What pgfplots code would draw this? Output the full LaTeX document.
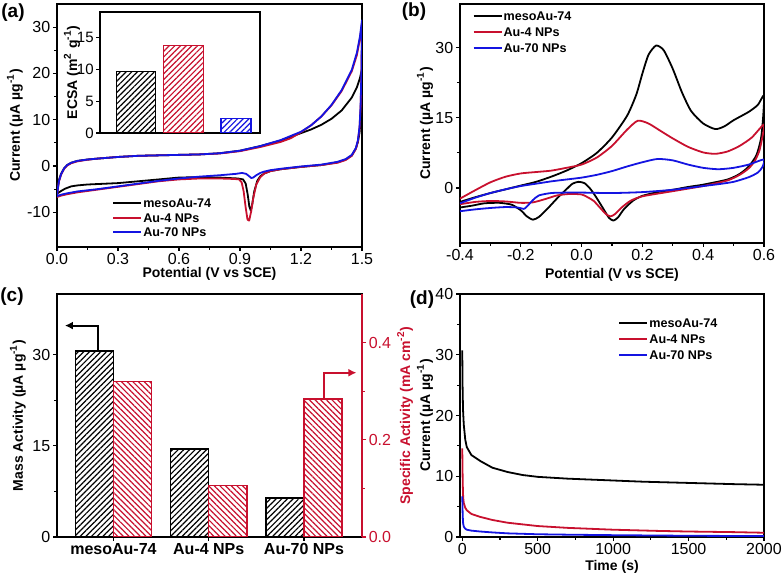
\documentclass[border=0pt]{standalone}
\usepackage{fontspec}
\setmainfont{Liberation Sans}
\usepackage{pgfplots}
\pgfplotsset{compat=1.18}
\usetikzlibrary{patterns,patterns.meta,arrows.meta}
\definecolor{myred}{RGB}{200,16,46}
\definecolor{myblue}{RGB}{20,20,225}

\pgfplotsset{
  panel/.style={
    scale only axis,
    axis line style={line width=0.75pt},
    tick align=outside,
    xtick pos=bottom, ytick pos=left,
    major tick length=2pt, minor tick length=1.3pt,
    every tick/.style={line width=0.6pt, black},
    tick label style={font=\fontsize{8}{9}\selectfont},
    xticklabel style={inner sep=1pt},
    yticklabel style={inner sep=1.2pt},
    label style={font=\bfseries\fontsize{7}{8}\selectfont},
    /pgf/number format/assume math mode=true,
    /pgf/number format/1000 sep={},
    legend style={draw=none, fill=none, font=\bfseries\fontsize{6.3}{7}\selectfont,
       nodes={inner sep=0.5pt, text height=4.6pt, text depth=0.2pt}, row sep=2.2pt, inner sep=0pt},
    legend cell align=left,
    legend image code/.code={\draw[##1, line width=1pt] (0pt,0pt) -- (14pt,0pt);},
  },
  cv/.style={line width=0.9pt, line join=round, mark=none},
}

\begin{document}
\begin{tikzpicture}
\path[use as bounding box] (0,0) rectangle (392pt,288.5pt);

% ---------------- (a) ----------------
\begin{axis}[panel, at={(28.5pt,165pt)}, anchor=south west, width=152.5pt, height=121.5pt,
  xmin=0, xmax=1.5, ymin=-17.5, ymax=35,
  xtick={0,0.3,0.6,0.9,1.2,1.5},
  xticklabel style={/pgf/number format/.cd, fixed, fixed zerofill, precision=1},
  ytick={-10,0,10,20,30}, minor x tick num=1, minor y tick num=1,
  xlabel={Potential (V vs SCE)}, ylabel={Current (µA µg\textsuperscript{-1})},
  xlabel style={at={(axis description cs:0.5,-0.111)}, anchor=center},
  ylabel style={at={(axis description cs:-0.138,0.5)}, anchor=center},
  legend style={at={(0.18,0.205)}, anchor=north west, row sep=1.4pt}]
\addplot[black, cv] coordinates {
(0,-6)(0.005,-4.3)(0.01,-3.0)(0.02,-1.7)(0.035,-0.5)(0.05,0.2)(0.07,0.7)(0.1,1.1)(0.15,1.4)(0.2,1.6)(0.3,1.95)(0.4,2.2)(0.5,2.3)(0.6,2.4)(0.7,2.5)(0.8,2.75)(0.9,3.3)(1.0,4.3)(1.1,5.5)(1.2,7.1)(1.25,7.9)(1.3,8.9)(1.35,10.2)(1.4,12.0)(1.45,14.8)(1.475,17)(1.49,19)(1.5,21)
(1.497,14)(1.493,10)(1.488,7.2)(1.48,5.2)(1.47,3.8)(1.45,2.3)(1.42,1.4)(1.38,0.8)(1.3,0.2)(1.2,-0.2)(1.1,-0.7)(1.05,-1.1)(1.02,-1.6)(1.0,-2.2)(0.985,-3.2)(0.97,-5.5)(0.96,-8.3)(0.953,-9.6)(0.946,-8.8)(0.938,-6.2)(0.928,-3.8)(0.915,-2.9)(0.89,-2.7)(0.8,-2.5)(0.7,-2.4)(0.6,-2.5)(0.5,-2.9)(0.4,-3.3)(0.3,-3.7)(0.2,-3.9)(0.15,-4.0)(0.1,-4.2)(0.07,-4.4)(0.04,-4.9)(0.02,-5.4)(0,-6)};
\addlegendentry{mesoAu-74}
\addplot[myred, cv] coordinates {
(0,-6.7)(0.005,-4.7)(0.01,-3.3)(0.02,-1.9)(0.035,-0.6)(0.05,0.1)(0.07,0.6)(0.1,1.0)(0.15,1.35)(0.2,1.6)(0.3,1.95)(0.4,2.2)(0.5,2.3)(0.6,2.4)(0.7,2.5)(0.8,2.7)(0.9,3.2)(1.0,4.1)(1.1,5.2)(1.15,6.0)(1.2,7.3)(1.25,8.8)(1.3,10.7)(1.35,13.1)(1.4,16.2)(1.45,20.5)(1.475,24)(1.49,27.5)(1.5,30.8)
(1.497,19)(1.493,12.5)(1.488,8.2)(1.48,5.4)(1.47,3.7)(1.45,2.2)(1.42,1.3)(1.38,0.7)(1.3,0.2)(1.2,-0.2)(1.1,-0.7)(1.05,-1.1)(1.02,-1.6)(1.0,-2.4)(0.98,-4.0)(0.965,-7.0)(0.955,-9.8)(0.945,-11.8)(0.937,-11.6)(0.928,-9.0)(0.918,-5.5)(0.908,-3.5)(0.895,-2.9)(0.87,-2.8)(0.8,-2.7)(0.7,-2.7)(0.6,-2.9)(0.5,-3.3)(0.4,-3.9)(0.3,-4.5)(0.2,-5.1)(0.1,-5.7)(0.05,-6.1)(0.02,-6.4)(0,-6.7)};
\addlegendentry{Au-4 NPs}
\addplot[myblue, cv] coordinates {
(0,-6.5)(0.005,-4.6)(0.01,-3.2)(0.02,-1.8)(0.035,-0.5)(0.05,0.2)(0.07,0.7)(0.1,1.1)(0.15,1.4)(0.2,1.6)(0.3,1.95)(0.4,2.2)(0.5,2.3)(0.6,2.4)(0.7,2.5)(0.8,2.75)(0.9,3.3)(1.0,4.3)(1.1,5.6)(1.2,7.4)(1.25,8.8)(1.3,10.7)(1.35,13.2)(1.4,16.4)(1.45,20.8)(1.475,24.5)(1.49,28)(1.5,31.5)
(1.497,20)(1.493,13)(1.488,8.5)(1.48,5.6)(1.47,3.9)(1.45,2.4)(1.42,1.5)(1.38,0.9)(1.3,0.3)(1.2,-0.1)(1.1,-0.6)(1.05,-0.9)(1.02,-1.2)(1.0,-1.5)(0.98,-2.0)(0.965,-2.5)(0.955,-2.6)(0.945,-2.2)(0.93,-1.7)(0.91,-1.5)(0.88,-1.7)(0.8,-2.0)(0.7,-2.3)(0.6,-2.7)(0.5,-3.2)(0.4,-3.8)(0.3,-4.4)(0.2,-5.0)(0.1,-5.5)(0.05,-5.9)(0.02,-6.2)(0,-6.5)};
\addlegendentry{Au-70 NPs}
\end{axis}

% inset
\begin{axis}[panel, at={(50pt,222pt)}, anchor=south west, width=80pt, height=60.5pt,
  xmin=0, xmax=160, ymin=0, ymax=19, xtick=\empty, ytick={0,5,10,15},
  yticklabel style={font=\fontsize{7.5}{8}\selectfont, inner sep=1pt},
  ylabel={ECSA (m\textsuperscript{2} g\textsuperscript{-1})},
  ylabel style={at={(axis description cs:-0.175,0.5)}, anchor=center},
  axis background/.style={fill=white},
  ybar, every axis plot post/.append style={bar shift=0pt}]
\addplot[draw=black, line width=0.6pt, bar width=39, pattern={Lines[angle=45,distance=2pt,line width=0.6pt]}, pattern color=black] coordinates {(36.3,9.6)};
\addplot[draw=myred, line width=0.6pt, bar width=40, pattern={Lines[angle=45,distance=2pt,line width=0.6pt]}, pattern color=myred] coordinates {(83.3,13.7)};
\addplot[draw=myblue, line width=0.6pt, bar width=30, pattern={Lines[angle=45,distance=2pt,line width=0.6pt]}, pattern color=myblue] coordinates {(136,2.25)};
\end{axis}

% ---------------- (b) ----------------
\begin{axis}[panel, at={(230pt,167pt)}, anchor=south west, width=152pt, height=119.5pt,
  xmin=-0.4, xmax=0.6, ymin=-11.8, ymax=39.4,
  xtick={-0.4,-0.2,0,0.2,0.4,0.6},
  xticklabel style={/pgf/number format/.cd, fixed, fixed zerofill, precision=1},
  ytick={0,15,30}, minor x tick num=1, minor y tick num=1,
  xlabel={Potential (V vs SCE)}, ylabel={Current (µA µg\textsuperscript{-1})},
  xlabel style={at={(axis description cs:0.5,-0.134)}, anchor=center},
  ylabel style={at={(axis description cs:-0.115,0.5)}, anchor=center},
  legend style={at={(0.04,0.975)}, anchor=north west}]
\addplot[black, cv, smooth, tension=0.4] coordinates {
(-0.4,-3.0)(-0.35,-2.0)(-0.3,-1.1)(-0.25,-0.3)(-0.2,0.5)(-0.15,1.3)(-0.1,2.4)(-0.05,3.7)(0,5.3)(0.05,7.5)(0.1,10.8)(0.15,15.5)(0.18,20)(0.2,24.5)(0.22,28.5)(0.245,30.5)(0.27,29.5)(0.3,25.5)(0.33,20.5)(0.36,16.5)(0.4,13.8)(0.44,12.6)(0.47,13.2)(0.5,14.5)(0.55,16.3)(0.58,17.8)(0.6,19.8)
(0.597,15)(0.59,10.5)(0.575,7)(0.55,4.6)(0.52,3.0)(0.48,1.8)(0.4,0.7)(0.35,0.2)(0.3,-0.4)(0.25,-0.9)(0.2,-1.7)(0.17,-2.7)(0.14,-4.5)(0.12,-6.3)(0.105,-7.0)(0.09,-6.4)(0.07,-4.3)(0.05,-2.2)(0.03,-0.3)(0.01,1.0)(-0.01,1.3)(-0.03,0.9)(-0.05,-0.3)(-0.08,-2.2)(-0.11,-4.3)(-0.14,-6.2)(-0.16,-6.8)(-0.18,-6.1)(-0.2,-4.8)(-0.23,-3.6)(-0.27,-3.2)(-0.32,-3.3)(-0.36,-3.8)(-0.4,-4.2)};
\addlegendentry{mesoAu-74}
\addplot[myred, cv, smooth, tension=0.4] coordinates {
(-0.4,-2.3)(-0.35,-0.5)(-0.3,1.2)(-0.25,2.4)(-0.2,3.1)(-0.15,3.4)(-0.1,3.7)(-0.05,4.3)(0,5.0)(0.05,6.5)(0.1,9.0)(0.15,12.5)(0.185,14.4)(0.22,13.8)(0.26,12.2)(0.3,10.6)(0.35,8.8)(0.4,7.6)(0.44,7.3)(0.48,7.8)(0.52,9.0)(0.56,10.8)(0.6,13.6)
(0.595,11)(0.585,8)(0.57,5.8)(0.55,4.2)(0.52,2.8)(0.48,1.6)(0.4,0.4)(0.3,-0.7)(0.2,-1.8)(0.16,-2.8)(0.13,-4.3)(0.11,-5.6)(0.095,-6.1)(0.08,-5.6)(0.06,-4.2)(0.04,-2.8)(0.02,-2.0)(0,-1.4)(-0.04,-1.3)(-0.08,-1.6)(-0.12,-2.4)(-0.16,-3.1)(-0.2,-3.2)(-0.25,-2.9)(-0.3,-2.8)(-0.35,-3.0)(-0.4,-3.5)};
\addlegendentry{Au-4 NPs}
\addplot[myblue, cv, smooth, tension=0.4] coordinates {
(-0.4,-3.3)(-0.35,-2.1)(-0.3,-1.1)(-0.25,-0.3)(-0.2,0.4)(-0.15,0.9)(-0.1,1.4)(-0.05,1.8)(0,2.2)(0.05,2.8)(0.1,3.6)(0.15,4.6)(0.2,5.5)(0.25,6.2)(0.3,5.9)(0.35,5.0)(0.4,4.3)(0.45,4.0)(0.5,4.3)(0.55,5.0)(0.6,6.1)
(0.595,4.5)(0.58,3.3)(0.55,2.3)(0.5,1.3)(0.45,0.8)(0.4,0.4)(0.3,-0.4)(0.2,-0.9)(0.1,-1.1)(0,-1.0)(-0.05,-1.0)(-0.1,-1.1)(-0.14,-1.6)(-0.16,-2.6)(-0.18,-4.0)(-0.19,-4.5)(-0.21,-4.2)(-0.25,-4.1)(-0.3,-4.3)(-0.35,-4.6)(-0.4,-5.0)};
\addlegendentry{Au-70 NPs}
\end{axis}

% ---------------- (c) ----------------
\begin{axis}[panel, at={(28.5pt,20pt)}, anchor=south west, width=152.5pt, height=121.5pt,
  xmin=-0.593, xmax=2.609, ymin=0, ymax=40,
  ytick={0,15,30}, minor y tick num=1,
  xtick={0,1,2}, xticklabels={mesoAu-74, Au-4 NPs, Au-70 NPs},
  xticklabel style={font=\bfseries\fontsize{8}{9}\selectfont},
  ylabel={Mass Activity (µA µg\textsuperscript{-1})},
  ylabel style={at={(axis description cs:-0.128,0.5)}, anchor=center},
  ybar, bar width=0.4, every axis plot post/.append style={bar shift=0pt}]
\addplot[draw=black, line width=0.75pt, pattern={Lines[angle=45,distance=2pt,line width=0.6pt]}, pattern color=black] coordinates {(-0.2,30.6)(0.8,14.5)(1.8,6.4)};
\draw[line width=1pt, -{Latex[length=4pt,width=4pt]}] (axis cs:-0.16,30.6) -- (axis cs:-0.16,34.8) -- (axis cs:-0.51,34.8);
\end{axis}
\begin{axis}[scale only axis, at={(28.5pt,20pt)}, anchor=south west, width=152.5pt, height=121.5pt,
  xmin=-0.593, xmax=2.609, ymin=0, ymax=0.5,
  axis x line=none, axis y line*=right,
  axis line style={myred, line width=0.75pt},
  tick align=outside, major tick length=2pt, minor tick length=1.3pt,
  every tick/.style={line width=0.6pt, myred},
  ytick={0,0.2,0.4}, minor y tick num=1,
  yticklabel style={font=\fontsize{8}{9}\selectfont, inner sep=1.2pt, color=myred, /pgf/number format/.cd, fixed, fixed zerofill, precision=1},
  /pgf/number format/assume math mode=true,
  ylabel={Specific Activity (mA cm\textsuperscript{-2})},
  ylabel style={font=\bfseries\fontsize{7}{8}\selectfont, color=myred, at={(axis description cs:1.141,0.5)}, anchor=center, rotate=0},
  ybar, bar width=0.4, every axis plot post/.append style={bar shift=0pt}]
\addplot[draw=myred, line width=0.75pt, pattern={Lines[angle=-45,distance=2pt,line width=0.6pt]}, pattern color=myred] coordinates {(0.2,0.32)(1.2,0.106)(2.2,0.284)};
\draw[myred, line width=1pt, -{Latex[length=4pt,width=4pt]}] (axis cs:2.21,0.284) -- (axis cs:2.21,0.338) -- (axis cs:2.55,0.338);
\end{axis}

% ---------------- (d) ----------------
\begin{axis}[panel, at={(230pt,20pt)}, anchor=south west, width=152pt, height=121.5pt,
  xmin=-15, xmax=2000, ymin=0, ymax=40,
  xtick={0,500,1000,1500,2000}, ytick={0,10,20,30,40},
  minor x tick num=1, minor y tick num=1,
  xlabel={Time (s)}, ylabel={Current (µA µg\textsuperscript{-1})},
  xlabel style={at={(axis description cs:0.5,-0.123)}, anchor=center},
  ylabel style={at={(axis description cs:-0.115,0.5)}, anchor=center},
  legend style={at={(0.52,0.905)}, anchor=north west}]
\addplot[black, cv] coordinates {
(0,30.7)(2,25)(5,21)(10,18.5)(20,16)(30,14.8)(60,13.5)(120,12.5)(200,11.4)(300,10.7)(400,10.2)(500,9.9)(700,9.6)(1000,9.3)(1200,9.1)(1500,8.9)(1800,8.7)(2000,8.6)};
\addlegendentry{mesoAu-74}
\addplot[myred, cv] coordinates {
(0,14.6)(3,9)(6,6.5)(10,5.6)(20,4.8)(30,4.4)(60,3.8)(120,3.3)(200,2.8)(300,2.35)(500,1.8)(700,1.5)(1000,1.2)(1300,1.0)(1500,0.9)(1800,0.8)(2000,0.7)};
\addlegendentry{Au-4 NPs}
\addplot[myblue, cv] coordinates {
(0,6.7)(3,3.5)(6,2.2)(10,1.7)(20,1.35)(30,1.2)(60,1.05)(120,0.9)(200,0.75)(300,0.6)(500,0.45)(700,0.38)(1000,0.3)(1500,0.2)(2000,0.15)};
\addlegendentry{Au-70 NPs}
\end{axis}

% panel labels
\node[font=\bfseries\fontsize{9.5}{10}\selectfont] at (6.5pt,282pt) {(a)};
\node[font=\bfseries\fontsize{9.5}{10}\selectfont] at (207pt,282.5pt) {(b)};
\node[font=\bfseries\fontsize{9.5}{10}\selectfont] at (6pt,140pt) {(c)};
\node[font=\bfseries\fontsize{9.5}{10}\selectfont] at (211pt,138.5pt) {(d)};
\end{tikzpicture}
\end{document}
